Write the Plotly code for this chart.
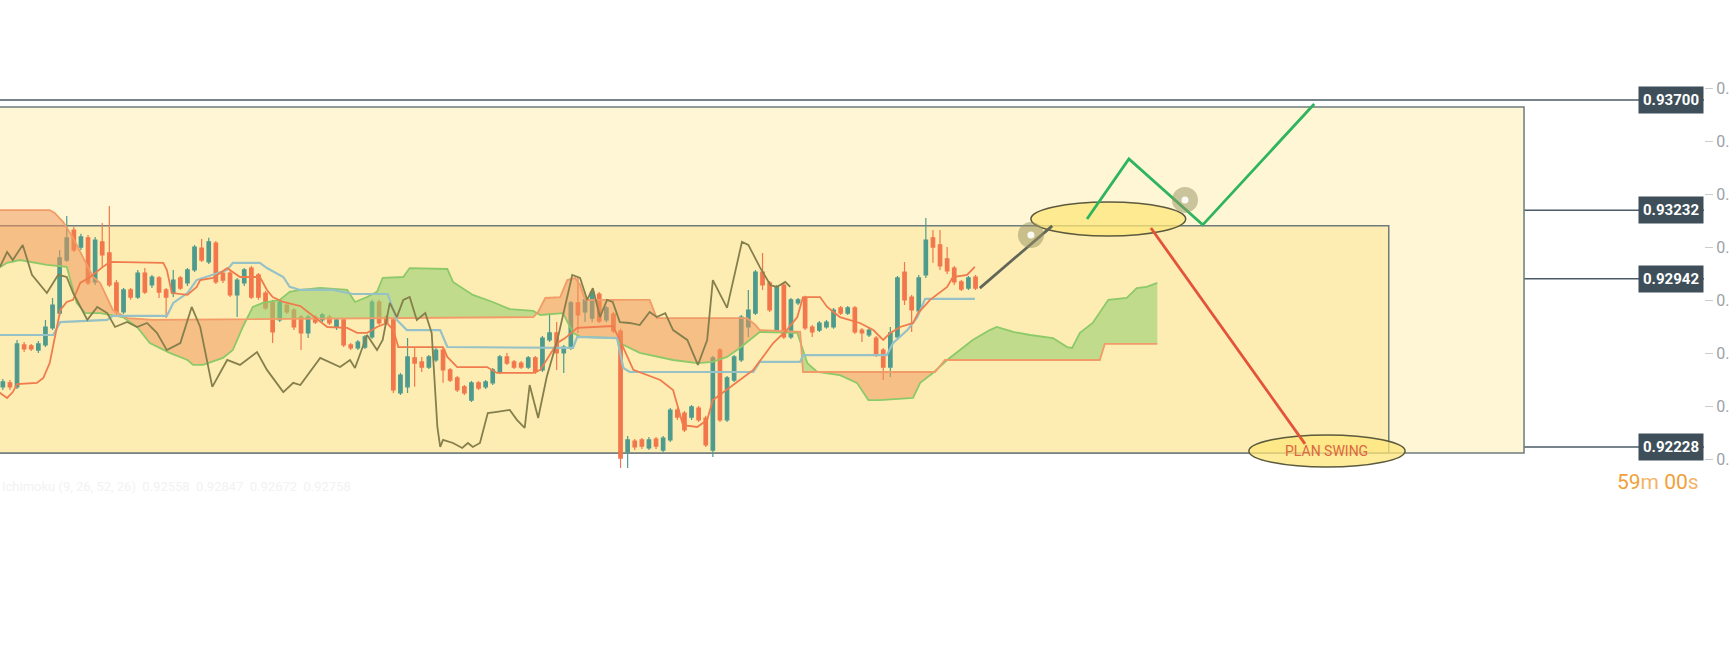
"""
Swing plan chart: Ichimoku candles with key levels and a hand-drawn plan.
"""

import numpy as np
import plotly.graph_objects as go

# Candles, one per bar (bar index 0..137)
OPEN = [
    0.92483, 0.92500, 0.92483, 0.92661, 0.92657, 0.92639, 0.92661, 0.92733, 0.92796, 0.93021,
    0.93148, 0.93076, 0.93115, 0.92928, 0.93098, 0.93051, 0.92924, 0.92801, 0.92894, 0.92864,
    0.92966, 0.92915, 0.92945, 0.92894, 0.92881, 0.92945, 0.92924, 0.92979, 0.93072, 0.93013,
    0.93093, 0.92966, 0.92966, 0.92873, 0.92924, 0.92987, 0.92958, 0.92881, 0.92843, 0.92767,
    0.92830, 0.92809, 0.92779, 0.92712, 0.92779, 0.92767, 0.92779, 0.92737, 0.92767, 0.92661,
    0.92648, 0.92652, 0.92695, 0.92843, 0.92779, 0.92767, 0.92457, 0.92483, 0.92606, 0.92589,
    0.92567, 0.92597, 0.92639, 0.92555, 0.92521, 0.92483, 0.92427, 0.92500, 0.92483, 0.92500,
    0.92546, 0.92610, 0.92589, 0.92584, 0.92567, 0.92606, 0.92555, 0.92682, 0.92712, 0.92627,
    0.92648, 0.92839, 0.92801, 0.92775, 0.92877, 0.92767, 0.92792, 0.92720, 0.92207, 0.92253,
    0.92258, 0.92224, 0.92262, 0.92215, 0.92258, 0.92385, 0.92372, 0.92355, 0.92393, 0.92351,
    0.92215, 0.92639, 0.92343, 0.92512, 0.92597, 0.92737, 0.92796, 0.92970, 0.92924, 0.92724,
    0.92915, 0.92695, 0.92839, 0.92860, 0.92737, 0.92724, 0.92737, 0.92737, 0.92818, 0.92796,
    0.92818, 0.92724, 0.92703, 0.92690, 0.92639, 0.92567, 0.92695, 0.92970, 0.92864, 0.92805,
    0.92958, 0.93115, 0.93085, 0.93026, 0.92987, 0.92928, 0.92902, 0.92949,
]
HIGH = [
    0.92516, 0.92512, 0.92682, 0.92673, 0.92665, 0.92678, 0.92767, 0.92860, 0.93064, 0.93208,
    0.93161, 0.93132, 0.93127, 0.93119, 0.93178, 0.93250, 0.92936, 0.92902, 0.92902, 0.92979,
    0.92987, 0.92958, 0.92953, 0.92902, 0.92979, 0.92953, 0.92987, 0.93085, 0.93110, 0.93115,
    0.93102, 0.92975, 0.92975, 0.92945, 0.92987, 0.92996, 0.92966, 0.92890, 0.92852, 0.92852,
    0.92839, 0.92818, 0.92788, 0.92788, 0.92788, 0.92796, 0.92788, 0.92775, 0.92775, 0.92669,
    0.92682, 0.92703, 0.92852, 0.92852, 0.92788, 0.92775, 0.92542, 0.92690, 0.92652, 0.92610,
    0.92618, 0.92648, 0.92648, 0.92563, 0.92529, 0.92491, 0.92508, 0.92508, 0.92512, 0.92563,
    0.92618, 0.92627, 0.92597, 0.92593, 0.92614, 0.92614, 0.92699, 0.92796, 0.92758, 0.92661,
    0.92847, 0.92949, 0.92860, 0.92894, 0.92885, 0.92826, 0.92801, 0.92729, 0.92275, 0.92262,
    0.92266, 0.92270, 0.92270, 0.92275, 0.92393, 0.92393, 0.92381, 0.92406, 0.92402, 0.92360,
    0.92614, 0.92648, 0.92529, 0.92618, 0.92788, 0.92894, 0.92979, 0.93051, 0.92932, 0.92915,
    0.92924, 0.92860, 0.92860, 0.92869, 0.92745, 0.92762, 0.92767, 0.92818, 0.92826, 0.92826,
    0.92826, 0.92733, 0.92733, 0.92699, 0.92648, 0.92737, 0.92953, 0.93013, 0.92873, 0.92958,
    0.93199, 0.93148, 0.93148, 0.93076, 0.92996, 0.92936, 0.92953, 0.92958,
]
LOW = [
    0.92470, 0.92470, 0.92474, 0.92631, 0.92635, 0.92627, 0.92652, 0.92724, 0.92784, 0.93013,
    0.93055, 0.93064, 0.92915, 0.92915, 0.92992, 0.92907, 0.92788, 0.92792, 0.92852, 0.92856,
    0.92877, 0.92902, 0.92860, 0.92775, 0.92864, 0.92894, 0.92911, 0.92970, 0.93013, 0.93004,
    0.92919, 0.92924, 0.92864, 0.92779, 0.92911, 0.92856, 0.92852, 0.92809, 0.92669, 0.92758,
    0.92792, 0.92724, 0.92639, 0.92690, 0.92750, 0.92758, 0.92745, 0.92724, 0.92652, 0.92639,
    0.92639, 0.92644, 0.92686, 0.92745, 0.92745, 0.92457, 0.92449, 0.92457, 0.92483, 0.92546,
    0.92559, 0.92589, 0.92500, 0.92504, 0.92461, 0.92449, 0.92419, 0.92470, 0.92474, 0.92491,
    0.92538, 0.92576, 0.92559, 0.92559, 0.92559, 0.92538, 0.92546, 0.92673, 0.92555, 0.92542,
    0.92639, 0.92712, 0.92758, 0.92758, 0.92754, 0.92758, 0.92712, 0.92139, 0.92139, 0.92215,
    0.92220, 0.92215, 0.92220, 0.92207, 0.92249, 0.92343, 0.92292, 0.92343, 0.92334, 0.92228,
    0.92186, 0.92334, 0.92334, 0.92504, 0.92589, 0.92695, 0.92788, 0.92894, 0.92801, 0.92716,
    0.92686, 0.92686, 0.92830, 0.92724, 0.92695, 0.92716, 0.92729, 0.92729, 0.92788, 0.92788,
    0.92707, 0.92673, 0.92695, 0.92610, 0.92512, 0.92525, 0.92686, 0.92830, 0.92716, 0.92792,
    0.92945, 0.93009, 0.92979, 0.92962, 0.92915, 0.92890, 0.92894, 0.92894,
]
CLOSE = [
    0.92504, 0.92483, 0.92665, 0.92644, 0.92644, 0.92665, 0.92737, 0.92830, 0.93030, 0.93115,
    0.93064, 0.93119, 0.92924, 0.93106, 0.93043, 0.92915, 0.92801, 0.92894, 0.92864, 0.92966,
    0.92885, 0.92949, 0.92885, 0.92864, 0.92936, 0.92902, 0.92979, 0.93076, 0.93021, 0.93098,
    0.92928, 0.92936, 0.92873, 0.92936, 0.92979, 0.92864, 0.92864, 0.92818, 0.92716, 0.92843,
    0.92801, 0.92737, 0.92712, 0.92779, 0.92758, 0.92788, 0.92754, 0.92767, 0.92661, 0.92648,
    0.92673, 0.92695, 0.92843, 0.92754, 0.92754, 0.92470, 0.92533, 0.92610, 0.92584, 0.92567,
    0.92610, 0.92639, 0.92555, 0.92512, 0.92470, 0.92457, 0.92500, 0.92478, 0.92504, 0.92555,
    0.92610, 0.92584, 0.92567, 0.92567, 0.92606, 0.92546, 0.92690, 0.92712, 0.92627, 0.92652,
    0.92839, 0.92788, 0.92852, 0.92885, 0.92762, 0.92818, 0.92720, 0.92181, 0.92258, 0.92228,
    0.92232, 0.92258, 0.92232, 0.92266, 0.92385, 0.92355, 0.92300, 0.92398, 0.92343, 0.92237,
    0.92606, 0.92343, 0.92521, 0.92610, 0.92779, 0.92809, 0.92970, 0.92915, 0.92809, 0.92907,
    0.92695, 0.92852, 0.92852, 0.92733, 0.92716, 0.92754, 0.92758, 0.92809, 0.92796, 0.92818,
    0.92716, 0.92712, 0.92724, 0.92618, 0.92567, 0.92712, 0.92945, 0.92852, 0.92809, 0.92945,
    0.93106, 0.93076, 0.92996, 0.92975, 0.92928, 0.92898, 0.92945, 0.92902,
]

# Ichimoku lines as (bar, price) vertices
TENKAN = [
    (-1, 0.92470), (0.6, 0.92436), (1.4, 0.92461), (2.0, 0.92495), (4.8, 0.92500),
    (5.7, 0.92521), (6.6, 0.92584), (7.3, 0.92695), (8.1, 0.92809), (9.0, 0.92843),
    (9.9, 0.92852), (10.9, 0.92924), (12.3, 0.92949), (14.1, 0.92992), (15.1, 0.93013),
    (22.6, 0.93009), (23.1, 0.92979), (23.8, 0.92881), (26.0, 0.92873), (27.3, 0.92907),
    (27.8, 0.92936), (29.6, 0.92945), (31.6, 0.92987), (33.4, 0.92949), (36.2, 0.92949),
    (37.2, 0.92894), (38.0, 0.92864), (39.5, 0.92843), (41.9, 0.92826), (45.7, 0.92737),
    (48.5, 0.92733), (49.9, 0.92712), (51.3, 0.92712), (52.7, 0.92737), (54.1, 0.92754),
    (55.0, 0.92724), (55.7, 0.92652), (62.0, 0.92652), (62.6, 0.92610), (64.0, 0.92567),
    (68.2, 0.92567), (69.6, 0.92542), (74.7, 0.92542), (75.7, 0.92555), (76.6, 0.92597),
    (78.1, 0.92669), (79.2, 0.92690), (80.9, 0.92733), (85.9, 0.92741), (86.9, 0.92682),
    (88.8, 0.92555), (92.6, 0.92512), (94.4, 0.92470), (95.8, 0.92321), (97.8, 0.92313),
    (99.2, 0.92343), (100.0, 0.92427), (102.0, 0.92470), (103.8, 0.92512), (105.7, 0.92555),
    (108.5, 0.92669), (110.4, 0.92724), (111.9, 0.92779), (112.7, 0.92864), (115.1, 0.92864),
    (116.1, 0.92822), (117.9, 0.92779), (120.7, 0.92754), (122.6, 0.92724), (124.0, 0.92682),
    (125.0, 0.92712), (126.4, 0.92737), (128.2, 0.92754), (128.9, 0.92796), (130.6, 0.92852),
    (133.0, 0.92907), (133.8, 0.92949), (135.8, 0.92958), (136.9, 0.92992),
]
KIJUN = [
    (-1, 0.92703), (7.1, 0.92703), (8.1, 0.92758), (14.7, 0.92767), (15.5, 0.92784),
    (23.1, 0.92784), (24.0, 0.92839), (26.0, 0.92881), (27.3, 0.92936), (31.6, 0.92979),
    (32.4, 0.93009), (36.2, 0.93009), (37.2, 0.92987), (39.5, 0.92949), (40.4, 0.92907),
    (41.9, 0.92894), (46.5, 0.92894), (47.9, 0.92886), (49.3, 0.92877), (54.2, 0.92877),
    (55.5, 0.92767), (56.9, 0.92724), (61.6, 0.92724), (62.6, 0.92652), (80.3, 0.92648),
    (80.9, 0.92695), (86.5, 0.92690), (87.4, 0.92563), (88.3, 0.92546), (105.7, 0.92546),
    (106.6, 0.92589), (112.3, 0.92589), (112.7, 0.92618), (124.5, 0.92618), (125.4, 0.92669),
    (127.4, 0.92724), (128.8, 0.92779), (129.9, 0.92856), (136.9, 0.92856),
]
CHIKOU = [
    (-0.4, 0.92992), (0.6, 0.93055), (1.4, 0.93021), (2.8, 0.93085), (4.1, 0.92958),
    (6.2, 0.92881), (7.8, 0.92958), (9.0, 0.92949), (9.9, 0.92881), (11.9, 0.92767),
    (13.3, 0.92822), (14.7, 0.92796), (15.8, 0.92737), (17.5, 0.92758), (18.9, 0.92737),
    (20.3, 0.92754), (21.7, 0.92712), (23.1, 0.92639), (25.0, 0.92669), (26.6, 0.92822),
    (27.8, 0.92737), (29.5, 0.92483), (31.6, 0.92597), (33.4, 0.92576), (35.8, 0.92631),
    (37.2, 0.92555), (39.5, 0.92461), (40.9, 0.92500), (41.9, 0.92491), (44.7, 0.92606),
    (47.5, 0.92567), (48.9, 0.92597), (49.6, 0.92563), (51.3, 0.92703), (52.7, 0.92639),
    (53.5, 0.92682), (54.5, 0.92839), (55.5, 0.92779), (56.4, 0.92852), (57.3, 0.92864),
    (58.3, 0.92767), (59.5, 0.92796), (60.4, 0.92712), (61.2, 0.92313), (61.6, 0.92228),
    (62.0, 0.92258), (63.4, 0.92245), (64.7, 0.92224), (65.5, 0.92245), (66.2, 0.92228),
    (67.2, 0.92245), (68.3, 0.92372), (69.6, 0.92377), (71.4, 0.92385), (72.4, 0.92343),
    (73.5, 0.92309), (74.2, 0.92491), (75.4, 0.92351), (76.6, 0.92525), (78.1, 0.92682),
    (80.2, 0.92958), (81.3, 0.92945), (82.3, 0.92852), (83.1, 0.92902), (84.1, 0.92779),
    (85.1, 0.92852), (85.9, 0.92843), (86.9, 0.92758), (88.3, 0.92754), (89.7, 0.92745),
    (91.1, 0.92801), (92.1, 0.92779), (93.3, 0.92796), (94.4, 0.92724), (96.4, 0.92682),
    (97.9, 0.92576), (99.2, 0.92682), (100.0, 0.92936), (102.0, 0.92818), (104.1, 0.93098),
    (105.0, 0.93085), (106.6, 0.92992), (108.1, 0.92915), (109.0, 0.92907), (110.2, 0.92928),
    (110.9, 0.92907),
]
SPAN_A = [
    (-1, 0.92979), (0.6, 0.93009), (2.4, 0.93021), (3.8, 0.93013), (6.2, 0.93000),
    (9.0, 0.92992), (9.5, 0.92936), (10.4, 0.92839), (11.6, 0.92796), (13.7, 0.92796),
    (16.9, 0.92779), (18.9, 0.92737), (20.7, 0.92669), (23.5, 0.92627), (26.0, 0.92597),
    (26.8, 0.92576), (28.2, 0.92576), (31.0, 0.92606), (32.4, 0.92640), (33.8, 0.92737),
    (35.2, 0.92822), (36.6, 0.92839), (39.0, 0.92852), (40.4, 0.92886), (41.9, 0.92894),
    (44.7, 0.92903), (48.5, 0.92894), (49.6, 0.92843), (51.3, 0.92864), (52.7, 0.92886),
    (53.5, 0.92945), (56.4, 0.92949), (57.3, 0.92987), (62.6, 0.92983), (63.4, 0.92928),
    (66.2, 0.92873), (69.0, 0.92843), (71.4, 0.92813), (74.7, 0.92805), (75.7, 0.92788),
    (78.9, 0.92796), (80.3, 0.92712), (81.3, 0.92695), (86.5, 0.92690), (86.9, 0.92669),
    (89.7, 0.92627), (94.4, 0.92597), (97.8, 0.92584), (100.0, 0.92589), (102.0, 0.92610),
    (103.8, 0.92648), (105.7, 0.92695), (106.6, 0.92716), (111.9, 0.92712), (113.3, 0.92584),
    (114.7, 0.92546), (117.9, 0.92533), (120.3, 0.92500), (121.9, 0.92427), (123.5, 0.92427),
    (128.2, 0.92436), (129.2, 0.92500), (131.0, 0.92542), (133.0, 0.92597), (134.8, 0.92640),
    (136.6, 0.92682), (139.0, 0.92724), (140.0, 0.92737), (142.3, 0.92716), (144.7, 0.92703),
    (147.9, 0.92690), (149.9, 0.92652), (150.6, 0.92648), (151.7, 0.92712), (153.5, 0.92754),
    (155.7, 0.92852), (158.3, 0.92860), (159.7, 0.92902), (161.1, 0.92907), (162.6, 0.92924),
]
SPAN_B = [
    (-1, 0.93233), (6.6, 0.93233), (7.3, 0.93221), (8.5, 0.93182), (9.9, 0.93115),
    (11.3, 0.93034), (12.7, 0.92949), (13.7, 0.92924), (15.5, 0.92809), (17.5, 0.92775),
    (21.1, 0.92767), (74.7, 0.92779), (75.4, 0.92801), (76.4, 0.92860), (78.5, 0.92864),
    (79.5, 0.92936), (80.6, 0.92945), (81.3, 0.92915), (82.0, 0.92852), (91.1, 0.92852),
    (92.1, 0.92775), (104.8, 0.92775), (106.0, 0.92746), (106.6, 0.92724), (112.3, 0.92716),
    (112.7, 0.92546), (131.3, 0.92546), (132.7, 0.92597), (154.5, 0.92597), (155.2, 0.92665),
    (162.6, 0.92665),
]

# Levels and hand-drawn plan (bar, price)
LEVELS = [0.93700, 0.93232, 0.92942, 0.92228]
PRICE_TICKS = [0.93750, 0.93525, 0.93300, 0.93075, 0.92850, 0.92625, 0.92400, 0.92175]
ZONE_OUTER = [-5, 214.25, 0.92203, 0.93670]   # bar from, bar to, price low, price high
ZONE_INNER = [-5, 195.2, 0.92203, 0.93166]
TARGET_ELLIPSE = [144.8, 166.6, 0.93123, 0.93267]
SWING_ELLIPSE = [175.5, 197.5, 0.92143, 0.92279]
APPROACH_PATH = [(137.6, 0.92902), (147.8, 0.93166)]
BULL_PATH = [(152.7, 0.93195), (158.6, 0.93450), (169.0, 0.93170), (184.7, 0.93683)]
BEAR_PATH = [(161.7, 0.93157), (183.4, 0.92241)]
HANDLES = [(144.8, 0.93127), (166.5, 0.93276)]
PLAN_LABEL = (186.5, 0.92211, "PLAN SWING")
COUNTDOWN = ["59", "m ", "00", "s"]
LEGEND_TEXT = "Ichimoku (9, 26, 52, 26)  0.92558  0.92847  0.92672  0.92758"

X_RANGE = [-0.4, 239.6]
Y_RANGE = [0.92088, 0.93827]

UP_COLOR = "#4e9b8e"
DOWN_COLOR = "#f2774c"
LEVEL_COLOR = "#4b5b66"
ZONE_LINE = "#6f7b7d"


def xy(points):
    xs, ys = zip(*points)
    return list(xs), list(ys)


def add_cloud(fig):
    """Two-coloured kumo: green where span A is on top, orange where span B is."""
    ax, ay = xy(SPAN_A)
    bx, by = xy(SPAN_B)
    grid = np.linspace(ax[0], ax[-1], 2400)
    a = np.interp(grid, ax, ay)
    b = np.interp(grid, bx, by)
    top = np.maximum(a, b)
    for base, color in ((b, "rgba(150,206,112,0.58)"), (a, "rgba(240,150,90,0.52)")):
        fig.add_trace(go.Scatter(x=grid, y=base, mode="lines", line=dict(width=0),
                                 hoverinfo="skip"))
        fig.add_trace(go.Scatter(x=grid, y=top, mode="lines", line=dict(width=0),
                                 fill="tonexty", fillcolor=color, hoverinfo="skip"))
    fig.add_trace(go.Scatter(x=ax, y=ay, mode="lines",
                             line=dict(color="#8cc969", width=1.8)))
    fig.add_trace(go.Scatter(x=bx, y=by, mode="lines",
                             line=dict(color="#f19c68", width=1.8)))


def add_candles(fig):
    bars = list(range(len(OPEN)))
    fig.add_trace(go.Candlestick(
        x=bars, open=OPEN, high=HIGH, low=LOW, close=CLOSE,
        increasing=dict(line=dict(color=UP_COLOR, width=1.2), fillcolor=UP_COLOR),
        decreasing=dict(line=dict(color=DOWN_COLOR, width=1.2), fillcolor=DOWN_COLOR),
        whiskerwidth=0, hoverinfo="skip",
    ))


def add_lines(fig):
    for points, color, width in ((KIJUN, "#96c1c6", 2.2),
                                 (TENKAN, "#f07b4d", 1.8),
                                 (CHIKOU, "#857f4c", 1.8)):
        xs, ys = xy(points)
        fig.add_trace(go.Scatter(x=xs, y=ys, mode="lines",
                                 line=dict(color=color, width=width)))


def add_zones_and_levels(fig):
    for zone, fill in ((ZONE_OUTER, "#fef6d5"), (ZONE_INNER, "#fdedb3")):
        fig.add_shape(type="rect", x0=zone[0], x1=zone[1], y0=zone[2], y1=zone[3],
                      fillcolor=fill, line=dict(color=ZONE_LINE, width=1.5), layer="below")

    for level in LEVELS:
        fig.add_shape(type="line", xref="paper", x0=0, x1=1, y0=level, y1=level,
                      line=dict(color=LEVEL_COLOR, width=1.5), layer="below")
        fig.add_annotation(xref="paper", x=1, y=level, xanchor="right", yanchor="middle",
                           text=f"<b>{level:.5f}</b>", showarrow=False,
                           bgcolor="#3e4f5a", borderpad=4,
                           font=dict(family="Roboto", size=15, color="white"))


def add_plan(fig):
    for e in (TARGET_ELLIPSE, SWING_ELLIPSE):
        fig.add_shape(type="circle", x0=e[0], x1=e[1], y0=e[2], y1=e[3],
                      fillcolor="rgba(253,229,120,0.75)",
                      line=dict(color="#5b5a3e", width=1.5), layer="below")

    for points, color in ((APPROACH_PATH, "#62655a"), (BULL_PATH, "#2fb45f"),
                          (BEAR_PATH, "#e3533a")):
        xs, ys = xy(points)
        fig.add_trace(go.Scatter(x=xs, y=ys, mode="lines",
                                 line=dict(color=color, width=2.8)))

    for hx, hy in HANDLES:
        for r, fill in ((13, "rgba(150,146,100,0.5)"), (3.5, "rgba(255,255,255,0.9)")):
            fig.add_shape(type="circle", xsizemode="pixel", ysizemode="pixel",
                          xanchor=hx, yanchor=hy, x0=-r, x1=r, y0=-r, y1=r,
                          fillcolor=fill, line=dict(width=0))

    fig.add_annotation(x=PLAN_LABEL[0], y=PLAN_LABEL[1], text=PLAN_LABEL[2],
                       showarrow=False, font=dict(family="Roboto", size=14, color="#dc6744"))


def configure_layout(fig):
    digits, unit = "#f0a03a", "#f3b468"
    countdown = "".join(
        f"<span style='color:{digits if k % 2 == 0 else unit}'>{part}</span>"
        for k, part in enumerate(COUNTDOWN)
    )
    fig.add_annotation(xref="paper", yref="paper", x=0.998, y=-0.005,
                       xanchor="right", yanchor="middle", text=countdown, showarrow=False,
                       font=dict(family="Roboto", size=21))
    fig.add_annotation(xref="paper", yref="paper", x=0, y=-0.015,
                       xanchor="left", yanchor="middle", text=LEGEND_TEXT, showarrow=False,
                       font=dict(family="Roboto", size=13, color="#f2f2f2"))

    fig.update_layout(
        width=1731, height=648,
        margin=dict(l=0, r=27, t=70, b=168),
        paper_bgcolor="white", plot_bgcolor="white",
        showlegend=False, hovermode=False,
        xaxis=dict(visible=False, range=X_RANGE, rangeslider=dict(visible=False),
                   automargin=False),
        yaxis=dict(side="right", range=Y_RANGE, tickvals=PRICE_TICKS,
                   ticktext=["0."] * len(PRICE_TICKS), ticks="outside", ticklen=8,
                   tickcolor="#c7cdd1", showgrid=False, zeroline=False, showline=False,
                   tickfont=dict(family="Roboto", size=16, color="#9aa3a9"),
                   automargin=False),
    )


fig = go.Figure()
add_zones_and_levels(fig)
add_cloud(fig)
add_candles(fig)
add_lines(fig)
add_plan(fig)
configure_layout(fig)

# the page body has a default 8px margin; drop it so the figure sits flush
fig.write_html("out.html", config={"displayModeBar": False},
               post_script="document.body.style.margin='0px';")
